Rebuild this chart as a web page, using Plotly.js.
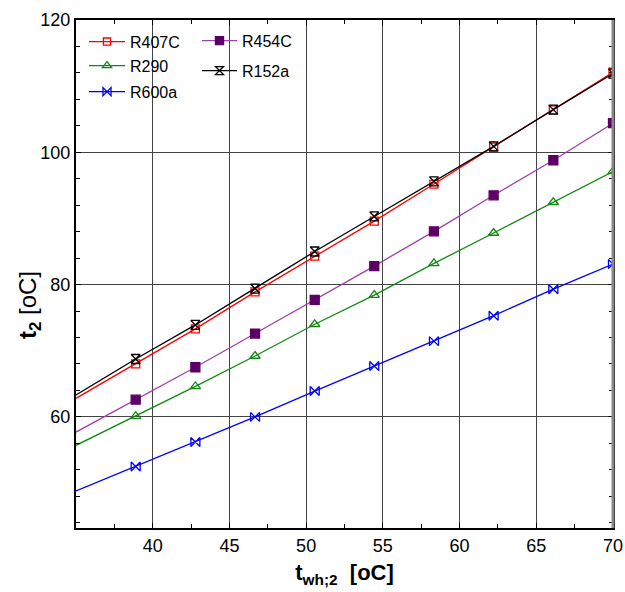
<!DOCTYPE html>
<html>
<head>
<meta charset="utf-8">
<script src="https://cdn.plot.ly/plotly-3.0.1.min.js"></script>
<style>html,body{margin:0;padding:0;background:#fff;}#chart{width:625px;height:592px;}</style>
</head>
<body>
<div id="chart"></div>
<script>
const twh2 = [35, 38.89, 42.78, 46.67, 50.56, 54.44, 58.33, 62.22, 66.11, 70];
const R407C = [62.8, 68.0, 73.3, 78.9, 84.3, 89.6, 95.2, 100.8, 106.4, 112.1];
const R290  = [55.7, 60.1, 64.6, 69.2, 74.0, 78.4, 83.2, 87.8, 92.45, 97.1];
const R600a = [48.8, 52.5, 56.2, 60.0, 63.9, 67.7, 71.45, 75.3, 79.3, 83.1];
const R454C = [57.7, 62.6, 67.5, 72.6, 77.7, 82.8, 88.05, 93.5, 98.8, 104.4];
const R152a = [63.3, 68.75, 73.9, 79.4, 85.0, 90.3, 95.6, 100.9, 106.45, 111.9];
const xTicks = [40, 45, 50, 55, 60, 65, 70];

const FONT = "Liberation Sans Narrow, Arial Narrow, Liberation Sans, Arial, sans-serif";
const msize = (n) => twh2.map((v, i) => i === 0 ? 0 : n);

function tr(name, y, color, mcolor, symbol, legend, ms) {
  return {
    x: twh2, y: y, name: name, type: 'scatter', mode: 'lines+markers',
    line: {color: color, width: 1.3},
    marker: {symbol: symbol, size: msize(ms), color: mcolor, opacity: 1, line: {color: mcolor, width: 1.3}},
    legend: legend
  };
}

const data = [
  tr('R407C', R407C, '#ff0000', '#ff0000', 'square-open', 'legend', 8),
  tr('R290', R290, '#128a12', '#128a12', 'triangle-up-open', 'legend2', 9),
  tr('R600a', R600a, '#0000ff', '#0000ff', 'bowtie-open', 'legend3', 9),
  tr('R454C', R454C, '#a040a8', '#5c0066', 'square', 'legend4', 9),
  tr('R152a', R152a, '#000000', '#000000', 'hourglass-open', 'legend5', 9)
];

const L = 76, R = 613, T = 20, B = 528;
const px = (v) => (v - L) / (R - L);
const py = (v) => 1 - (v - T) / (B - T);
function leg(x, y, iw) {
  return {x: px(x), y: py(y), xanchor: 'left', yanchor: 'middle', bgcolor: 'rgba(0,0,0,0)',
          borderwidth: 0, itemwidth: iw, font: {family: FONT, size: 16, color: '#000'}};
}

const layout = {
  width: 625, height: 592,
  margin: {l: L, r: 625 - R, t: T, b: 592 - B},
  paper_bgcolor: '#fff', plot_bgcolor: '#fff',
  font: {family: FONT, color: '#000'},
  showlegend: true,
  legend: leg(84, 41.7, 36),
  legend2: leg(84, 65.7, 36),
  legend3: leg(84, 91.7, 36),
  legend4: leg(197, 40.7, 35),
  legend5: leg(197, 70.7, 35),
  xaxis: {
    range: [35, 70], tickmode: 'array', tickvals: xTicks,
    ticks: 'inside', ticklen: 5, tickcolor: '#000', tickwidth: 1,
    showline: true, linecolor: '#000', linewidth: 2, mirror: 'allticks',
    showgrid: true, gridcolor: '#444', gridwidth: 1.2, zeroline: false,
    minor: {tickmode: 'linear', tick0: 0, dtick: 2.5, ticks: 'inside', ticklen: 4, tickcolor: '#000', showgrid: false},
    tickfont: {family: FONT, size: 18, color: '#000'},
    title: {text: '<b>t<sub>wh;2</sub>&nbsp;&nbsp;[oC]</b>', font: {family: FONT, size: 22, color: '#000'}, standoff: 10}
  },
  yaxis: {
    range: [43.2, 120], tickmode: 'linear', tick0: 0, dtick: 20,
    ticks: 'inside', ticklen: 5, tickcolor: '#000', tickwidth: 1,
    showline: true, linecolor: '#000', linewidth: 2, mirror: 'allticks',
    showgrid: true, gridcolor: '#444', gridwidth: 1.2, zeroline: false,
    minor: {tickmode: 'linear', tick0: 0, dtick: 4, ticks: 'inside', ticklen: 4, tickcolor: '#000', showgrid: false},
    tickfont: {family: FONT, size: 18, color: '#000'}
  },
  annotations: [
    {text: '<b>t<sub>2</sub></b> [oC]', xref: 'paper', yref: 'paper', x: px(29), y: py(305),
     xanchor: 'center', yanchor: 'middle', textangle: -90, showarrow: false,
     font: {family: FONT, size: 24, color: '#000'}}
  ],
  shapes: [
    {type: 'line', xref: 'paper', yref: 'paper', x0: 1, x1: 1, y0: 0, y1: 1, line: {color: '#888', width: 3}}
  ]
};

Plotly.newPlot('chart', data, layout, {displayModeBar: false, staticPlot: true});
</script>
</body>
</html>
